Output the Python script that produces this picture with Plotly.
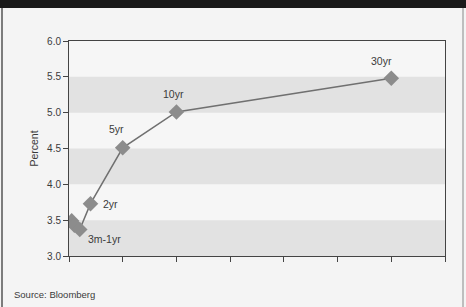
import plotly.graph_objects as go

maturities = [0.25, 0.5, 1, 2, 5, 10, 30]
yields = [3.49, 3.43, 3.37, 3.73, 4.51, 5.01, 5.48]
point_labels = ["", "", "3m-1yr", "2yr", "5yr", "10yr", "30yr"]
label_offsets = [(0, 0), (0, 0), (25, 10), (20, 0), (-6, -19), (-3, -18), (-10, -17)]
y_ticks = [3.0, 3.5, 4.0, 4.5, 5.0, 5.5, 6.0]
bands = [(3.0, 3.5), (4.0, 4.5), (5.0, 5.5)]

FONT = "Liberation Sans"
fig = go.Figure()
fig.add_trace(go.Scatter(
    x=maturities, y=yields, mode="lines+markers",
    line=dict(color="#707070", width=1.5),
    marker=dict(symbol="diamond", size=12, color="#8c8c8c",
                line=dict(width=0)),
    hoverinfo="skip", showlegend=False,
))

shapes = []
for lo, hi in bands:
    shapes.append(dict(type="rect", xref="paper", yref="y", x0=0, x1=1,
                       y0=lo, y1=hi, fillcolor="#e2e2e2", line=dict(width=0),
                       layer="below"))
# top black bar and outer frame
shapes.append(dict(type="rect", xref="paper", yref="paper",
                   x0=-69/376, x1=(466-69)/376, y0=(256+2)/215, y1=(256-8)/215,
                   fillcolor="#1a1a1a", line=dict(width=0), layer="above"))
shapes.append(dict(type="line", xref="paper", yref="paper",
                   x0=-67/376, x1=-67/376, y0=(256-8)/215, y1=(256-307)/215,
                   line=dict(color="#555", width=1.5)))
shapes.append(dict(type="line", xref="paper", yref="paper",
                   x0=(463-69)/376, x1=(463-69)/376, y0=(256-8)/215, y1=(256-307)/215,
                   line=dict(color="#888", width=1)))

annotations = []
for x, y, t, (dx, dy) in zip(maturities, yields, point_labels, label_offsets):
    if t:
        annotations.append(dict(x=x, y=y, text=t, showarrow=False,
                                xshift=dx, yshift=-dy,
                                font=dict(family=FONT, size=10.5, color="#3a3a3a")))
annotations.append(dict(xref="paper", yref="paper", x=-57/376, y=(256-294)/215,
                        text="Source: Bloomberg", showarrow=False, xanchor="left",
                        yanchor="middle", font=dict(family=FONT, size=9.5, color="#3a3a3a")))

fig.update_layout(
    width=466, height=307,
    margin=dict(l=69, r=21, t=41, b=51, autoexpand=False),
    paper_bgcolor="#f4f4f4", plot_bgcolor="#f6f6f6",
    font=dict(family=FONT, size=10, color="#3a3a3a"),
    shapes=shapes, annotations=annotations,
    xaxis=dict(range=[0, 35], tickvals=[0, 5, 10, 15, 20, 25, 30, 35],
               showticklabels=False, ticks="outside", ticklen=5, tickcolor="#444",
               showgrid=False, zeroline=False, showline=True, linecolor="#444",
               linewidth=1, mirror=True, automargin=False),
    yaxis=dict(range=[3.0, 6.0], tickvals=y_ticks,
               ticktext=[f"{v:.1f}" for v in y_ticks],
               ticks="outside", ticklen=5, tickcolor="#444",
               showgrid=False, zeroline=False, showline=True, linecolor="#444",
               linewidth=1, mirror=True, automargin=False,
               title=dict(text="Percent", font=dict(family=FONT, size=10.5), standoff=6)),
)
fig.write_html("out.html", config={"displayModeBar": False},
               post_script="document.body.style.margin='0';document.body.style.background='#f4f4f4';")
